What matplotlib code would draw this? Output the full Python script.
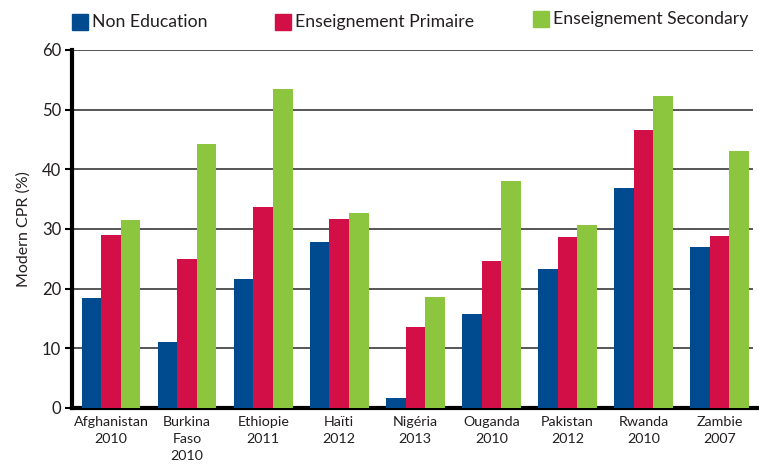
import matplotlib.pyplot as plt
import numpy as np
from matplotlib.patches import Rectangle

countries = ["Afghanistan\n2010", "Burkina\nFaso\n2010", "Ethiopie\n2011", "Haïti\n2012",
             "Nigéria\n2013", "Ouganda\n2010", "Pakistan\n2012", "Rwanda\n2010", "Zambie\n2007"]
non_education = [18.4, 11.1, 21.7, 27.8, 1.6, 15.7, 23.3, 36.9, 27.0]
primaire = [29.0, 25.0, 33.7, 31.7, 13.5, 24.7, 28.7, 46.6, 28.8]
secondaire = [31.5, 44.2, 53.4, 32.7, 18.6, 38.0, 30.7, 52.3, 43.0]
series_names = ["Non Education", "Enseignement Primaire", "Enseignement Secondary"]
colors = ["#004A8F", "#D20F46", "#8CC63F"]

plt.rcParams['font.family'] = ['Lato', 'DejaVu Sans']

fig = plt.figure(figsize=(7.59, 4.65), dpi=100)
ax = fig.add_axes([0.0953, 0.1226, 0.9047, 0.7699])

x = np.arange(len(countries))
w = 0.257
for i, vals in enumerate([non_education, primaire, secondaire]):
    ax.bar(x + (i - 1) * w, vals, width=w, color=colors[i], zorder=3)

for y in range(10, 70, 10):
    ax.axhline(y, xmax=0.99, color="#555555", lw=1.4, zorder=1)

ax.set_xlim(-0.51, 8.52)
ax.set_ylim(0, 60)
ax.set_yticks(range(0, 70, 10))
ax.set_xticks(x)
ax.set_xticklabels(countries, fontsize=10.3, linespacing=1.5, color="#231F20")
ax.tick_params(axis="x", length=0, pad=6)
ax.tick_params(axis="y", length=5, width=1.5, labelsize=12, pad=3, colors="black",
               labelcolor="#231F20")
ax.set_ylabel("Modern CPR (%)", fontsize=11.5, color="#231F20", labelpad=8)

for s in ["top", "right"]:
    ax.spines[s].set_visible(False)
ax.spines["left"].set_linewidth(3)
ax.spines["bottom"].set_linewidth(3)

# legend across the top
legend_pos = [(72, 14), (275, 14), (533, 11)]
for (px, py), name, c in zip(legend_pos, series_names, colors):
    fig.add_artist(Rectangle((px / 759, 1 - (py + 16) / 465), 16 / 759, 16 / 465,
                             transform=fig.transFigure, color=c))
    fig.text((px + 20) / 759, 1 - (py + 8) / 465, name, fontsize=12.7,
             va="center", ha="left", color="#231F20")

fig.savefig("out.png", dpi=100)
